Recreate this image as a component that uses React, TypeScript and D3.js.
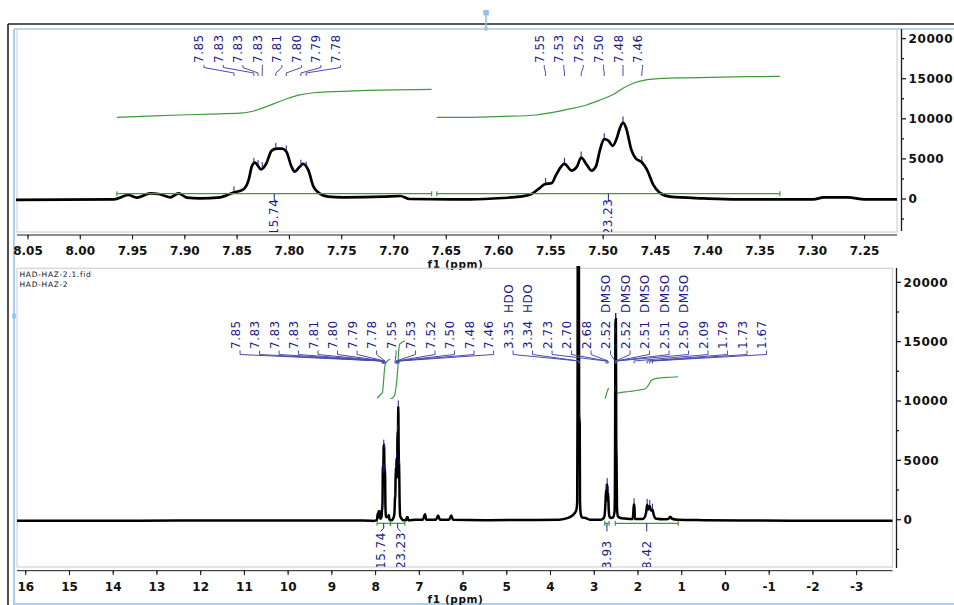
import * as d3 from 'd3';

type Pt = [number, number];

// spectrum trace, [ppm, intensity]
const traceDownfield: Pt[] = [
  [16.2, -80], [14.5, -90], [12.5, -70], [10.5, -60], [9.0, -60], [8.3, -60], [8.1, -80],
];

const traceAromatic: Pt[] = [
  [8.061, -100], [7.968, -40], [7.954, 500], [7.946, 170], [7.933, 710], [7.925, 625],
  [7.914, 210], [7.906, 710], [7.898, 170], [7.886, 80], [7.866, 210], [7.854, 790],
  [7.844, 1210], [7.839, 2375], [7.836, 4040], [7.833, 4540], [7.827, 3700], [7.822, 4460],
  [7.817, 6040], [7.812, 6290], [7.807, 6290], [7.803, 5920], [7.798, 4040], [7.795, 3420],
  [7.79, 4040], [7.787, 4375], [7.782, 3625], [7.777, 1540], [7.772, 790], [7.763, 290],
  [7.749, 210], [7.71, 290], [7.694, 375], [7.685, 0], [7.627, -40], [7.596, 125],
  [7.58, 290], [7.569, 580], [7.561, 1330], [7.556, 1830], [7.549, 2000], [7.545, 3000],
  [7.537, 4375], [7.53, 3540], [7.525, 4040], [7.521, 5170], [7.516, 4330], [7.511, 3540],
  [7.507, 4040], [7.503, 6125], [7.499, 7460], [7.495, 7290], [7.491, 6625], [7.487, 7580],
  [7.484, 8830], [7.481, 9540], [7.478, 8830], [7.473, 6125], [7.469, 5080], [7.463, 4580],
  [7.458, 3625], [7.452, 1750], [7.446, 790], [7.436, 290], [7.404, 80], [7.372, -40],
  [7.299, -40], [7.289, 200], [7.266, 200], [7.25, -40], [7.218, -40],
];

const traceUpfield: Pt[] = [
  [7.1, 0], [6.92, 0], [6.87, 450], [6.84, 0], [6.62, 0], [6.57, 350], [6.53, 0],
  [6.32, 0], [6.27, 350], [6.23, 0], [5.5, -40], [4.5, -20], [3.8, 0], [3.6, 150],
  [3.5, 350], [3.45, 550], [3.41, 800], [3.39, 1500], [3.382, 10000], [3.376, 25000],
  [3.352, 25000], [3.346, 9000], [3.338, 8400], [3.332, 8000], [3.326, 1500], [3.31, 500],
  [3.28, 200], [3.2, 150], [3.1, 0], [2.85, 0], [2.78, 150], [2.76, 500], [2.745, 1300],
  [2.73, 2500], [2.72, 1600], [2.705, 3000], [2.695, 1800], [2.683, 2300], [2.67, 900],
  [2.655, 300], [2.62, 150], [2.57, 200], [2.535, 700], [2.525, 4500], [2.515, 16900],
  [2.505, 16900], [2.497, 6500], [2.49, 5000], [2.48, 1000], [2.46, 300], [2.4, 150],
  [2.3, 100], [2.12, 50], [2.1, 1000], [2.09, 1300], [2.08, 1000], [2.07, 50], [1.9, 50],
  [1.84, 250], [1.81, 700], [1.79, 1250], [1.77, 850], [1.75, 950], [1.73, 1150],
  [1.71, 850], [1.69, 750], [1.67, 850], [1.64, 400], [1.6, 100], [1.4, 30], [1.3, 80],
  [1.26, 250], [1.22, 80], [1.1, 0], [0.5, -40], [-0.5, -70], [-1.5, -80], [-2.5, -80],
  [-3.85, -80],
];

// picked peaks
const peakPpm = [
  7.853, 7.834, 7.83, 7.826, 7.813, 7.803, 7.789, 7.784, 7.555, 7.537, 7.521, 7.499, 7.481, 7.463,
  3.352, 3.34, 2.73, 2.705, 2.683, 2.52, 2.516, 2.511, 2.507, 2.503, 2.09, 1.79, 1.73, 1.67,
];
const peakText = [
  '7.85', '7.83', '7.83', '7.83', '7.81', '7.80', '7.79', '7.78', '7.55', '7.53', '7.52', '7.50',
  '7.48', '7.46', '3.35 HDO', '3.34 HDO', '2.73', '2.70', '2.68', '2.52 DMSO', '2.52 DMSO',
  '2.51 DMSO', '2.51 DMSO', '2.50 DMSO', '2.09', '1.79', '1.73', '1.67',
];

// integrals
const integralStart = [7.965, 7.659, 2.76, 2.52];
const integralEnd = [7.664, 7.331, 2.66, 1.08];
const integralText = ['15.74', '23.23', '3.93', '8.42'];
const integralA: Pt[] = [
  [7.965, 0], [7.935, 0.7], [7.905, 1.3], [7.875, 1.8], [7.847, 2.3], [7.835, 3.4],
  [7.822, 6.0], [7.803, 10.3], [7.79, 12.6], [7.777, 13.8], [7.758, 14.4], [7.713, 15.3],
  [7.664, 15.7],
];
const integralB: Pt[] = [
  [7.659, 0], [7.627, 0], [7.596, 0.5], [7.564, 1.3], [7.548, 2.8], [7.532, 4.7],
  [7.516, 6.9], [7.503, 9.7], [7.49, 12.9], [7.481, 16.3], [7.471, 19.1], [7.459, 21.0],
  [7.443, 21.9], [7.42, 22.2], [7.363, 22.8], [7.331, 23.0],
];
const integralC: Pt[] = [
  [2.76, 0], [2.74, 0.6], [2.725, 1.6], [2.71, 2.5], [2.695, 3.3], [2.68, 3.8], [2.66, 4.0],
];
const integralD: Pt[] = [
  [2.52, 0], [2.505, 1.9], [2.45, 2.2], [2.2, 2.8], [2.0, 3.3], [1.84, 3.8], [1.79, 4.6],
  [1.74, 6.0], [1.69, 7.3], [1.62, 7.9], [1.5, 8.2], [1.25, 8.5], [1.08, 8.7],
];
const integralCurves = [integralA, integralB, integralC, integralD];

// axis ticks
const topTickPpm = [8.05, 8.0, 7.95, 7.9, 7.85, 7.8, 7.75, 7.7, 7.65, 7.6, 7.55, 7.5, 7.45, 7.4, 7.35, 7.3, 7.25];
const bottomTickPpm = [16, 15, 14, 13, 12, 11, 10, 9, 8, 7, 6, 5, 4, 3, 2, 1, 0, -1, -2, -3];
const intensityTicks = [0, 5000, 10000, 15000, 20000];

const FONT = '"DejaVu Sans", Verdana, sans-serif';
const NAVY = '#1b1b8c';
const LINK = '#4c4cae';
const GREEN = '#3c9b3c';

const spectrum: Pt[] = [...traceDownfield, ...traceAromatic, ...traceUpfield].sort((a, b) => b[0] - a[0]);
const ascending = spectrum.slice().reverse();
const bisectPpm = d3.bisector((d: Pt) => d[0]).left;
const heightAt = (p: number) => {
  const i = bisectPpm(ascending, p);
  const a = ascending[Math.max(0, i - 1)];
  const b = ascending[Math.min(ascending.length - 1, i)];
  const t = b[0] === a[0] ? 0 : (p - a[0]) / (b[0] - a[0]);
  return a[1] + t * (b[1] - a[1]);
};

// push overlapping labels apart, keeping each group centred on its peaks
const spread = (xs: number[], gap: number) => {
  const groups = xs.map((v) => ({ n: 1, sum: v, start: v }));
  let i = 0;
  while (i < groups.length - 1) {
    const a = groups[i];
    const b = groups[i + 1];
    if (b.start - (a.start + (a.n - 1) * gap) < gap) {
      const n = a.n + b.n;
      const sum = a.sum + b.sum;
      groups.splice(i, 2, { n, sum, start: sum / n - ((n - 1) * gap) / 2 });
      i = Math.max(0, i - 1);
    } else i++;
  }
  return groups.flatMap((g) => d3.range(g.n).map((k) => g.start + k * gap));
};

type PanelCfg = {
  id: string;
  left: number; right: number; top: number; bottom: number; clipTop: number;
  xDomain: [number, number];
  yRange: [number, number];
  axisY: number; axisX: number; axisTop: number; axisBottom: number;
  majors: number[]; fmt: (v: number) => string; minorStep: number;
  tickLabelY: number; titleY: number;
  labelY: number; link: number[];
  intBase: number; intScale: number; barY: number; intLabelY: number;
  stroke: number;
  showName?: boolean;
};

const Panel = ({ c }: { c: PanelCfg }) => {
  const x = d3.scaleLinear().domain(c.xDomain).range([c.left, c.right]);
  const y = d3.scaleLinear().domain([0, 20000]).range(c.yRange);
  const yInt = (v: number) => c.intBase - v * c.intScale;
  const line = d3.line<Pt>().x((d) => x(d[0])).y((d) => y(d[1])).curve(d3.curveMonotoneX);
  const intLine = d3.line<Pt>().x((d) => x(d[0])).y((d) => yInt(d[1])).curve(d3.curveMonotoneX);

  const [hi, lo] = c.xDomain;
  const inside = (p: number) => p <= hi && p >= lo;

  const peaks = peakPpm.map((p, i) => ({ p, text: peakText[i] })).filter((d) => inside(d.p));
  const peakX = peaks.map((d) => x(d.p));
  const labelX = spread(peakX, 19.5);

  const ints = integralStart
    .map((s, i) => ({ s, e: integralEnd[i], text: integralText[i], curve: integralCurves[i] }))
    .filter((d) => inside((d.s + d.e) / 2));
  const intX = ints.map((d) => x((d.s + d.e) / 2));
  const intLabelX = spread(intX, 20);

  const minors = d3.range(d3.min(c.majors)! - c.minorStep, d3.max(c.majors)! + c.minorStep * 1.5, c.minorStep * 2)
    .map((v) => +(v + c.minorStep).toFixed(4))
    .filter(inside);
  const yMinors = [-2500, 2500, 7500, 12500, 17500].filter((v) => y(v) >= c.axisTop && y(v) <= c.axisBottom);
  const clip = `clip-${c.id}`;
  const [l0, l1, l2, l3] = c.link;

  return (
    <g>
      <defs>
        <clipPath id={clip}>
          <rect x={c.left - 1} y={c.clipTop} width={c.right - c.left + 1} height={c.bottom - c.clipTop} />
        </clipPath>
      </defs>
      <rect x={c.left} y={c.top} width={c.right - c.left} height={c.bottom - c.top} fill="none" stroke="#d2d2d2" strokeWidth={1.2} />

      {c.showName && (
        <g fontFamily={FONT} fontSize={7.5} fill="#111" letterSpacing={0.7}>
          <text x={c.left + 2.5} y={c.top + 8.3}>HAD-HAZ-2.1.fid</text>
          <text x={c.left + 2.5} y={c.top + 18.8}>HAD-HAZ-2</text>
        </g>
      )}

      <g clipPath={`url(#${clip})`}>
        {/* integral curves */}
        {ints.map((d, i) => (
          <path key={`ic${i}`} d={intLine(d.curve) ?? ''} fill="none" stroke={GREEN} strokeWidth={1.2} />
        ))}
        {/* spectrum */}
        <path d={line(spectrum) ?? ''} fill="none" stroke="#000" strokeWidth={c.stroke} strokeLinejoin="round" />
        {/* peak markers */}
        {peaks.map((d, i) => {
          const py = y(heightAt(d.p));
          return <line key={`pm${i}`} x1={peakX[i]} x2={peakX[i]} y1={py - 6} y2={py - 1} stroke={NAVY} strokeWidth={1} />;
        })}
        {/* integral bars */}
        {ints.map((d, i) => (
          <g key={`ib${i}`} stroke={GREEN} strokeWidth={1.2}>
            <line x1={x(d.s)} x2={x(d.e)} y1={c.barY} y2={c.barY} />
            <line x1={x(d.s)} x2={x(d.s)} y1={c.barY - 2.5} y2={c.barY + 2.5} />
            <line x1={x(d.e)} x2={x(d.e)} y1={c.barY - 2.5} y2={c.barY + 2.5} />
          </g>
        ))}
        {/* integral values, written upward from below the frame */}
        {ints.map((d, i) => (
          <g key={`il${i}`}>
            <path
              d={`M${intX[i]},${c.barY} V${c.barY + 5} L${intLabelX[i]},${c.barY + 8}`}
              fill="none" stroke={NAVY} strokeWidth={1}
            />
            <text
              transform={`translate(${intLabelX[i] + 4},${c.intLabelY}) rotate(-90)`}
              fontFamily={FONT} fontSize={12} letterSpacing={0.5} fill={NAVY}
            >
              {d.text}
            </text>
          </g>
        ))}
      </g>

      {/* peak labels */}
      {peaks.map((d, i) => (
        <g key={`pl${i}`}>
          <path
            d={`M${labelX[i]},${l0} V${l1} L${peakX[i]},${l2} V${l3}`}
            fill="none" stroke={LINK} strokeWidth={1}
          />
          <text
            transform={`translate(${labelX[i] - 0.5},${c.labelY}) rotate(-90)`}
            fontFamily={FONT} fontSize={12} letterSpacing={0.5} wordSpacing={3} fill={NAVY}
          >
            {d.text}
          </text>
        </g>
      ))}

      {/* x axis */}
      <g stroke="#1a1a1a" strokeWidth={1}>
        <line x1={c.left} x2={c.right} y1={c.axisY} y2={c.axisY} />
        {c.majors.map((v) => (
          <line key={`xt${v}`} x1={x(v)} x2={x(v)} y1={c.axisY} y2={c.axisY + 4.5} />
        ))}
        {minors.map((v) => (
          <line key={`xm${v}`} x1={x(v)} x2={x(v)} y1={c.axisY} y2={c.axisY + 2.5} />
        ))}
      </g>
      <g fontFamily={FONT} fontSize={12} fontWeight="bold" fill="#111" textAnchor="middle">
        {c.majors.map((v) => (
          <text key={`xl${v}`} x={x(v)} y={c.tickLabelY}>{c.fmt(v)}</text>
        ))}
      </g>
      <text x={455.5} y={c.titleY} textAnchor="middle" fontFamily={FONT} fontSize={10.5} fontWeight="bold" letterSpacing={0.6} fill="#111">
        f1 (ppm)
      </text>

      {/* intensity axis */}
      <g stroke="#1a1a1a" strokeWidth={1.3}>
        <line x1={c.axisX} x2={c.axisX} y1={c.axisTop} y2={c.axisBottom} />
        {intensityTicks.map((v) => (
          <line key={`yt${v}`} x1={c.axisX} x2={c.axisX + 4.5} y1={y(v)} y2={y(v)} />
        ))}
        {yMinors.map((v) => (
          <line key={`ym${v}`} x1={c.axisX} x2={c.axisX + 2.5} y1={y(v)} y2={y(v)} />
        ))}
      </g>
      <g fontFamily={FONT} fontSize={12} fontWeight="bold" fill="#111" letterSpacing={0.6}>
        {intensityTicks.map((v) => (
          <text key={`yl${v}`} x={c.axisX + 7} y={y(v)} dy="0.35em">{String(v)}</text>
        ))}
      </g>
    </g>
  );
};

const topPanel: PanelCfg = {
  id: 'top',
  left: 17, right: 897, top: 29, bottom: 232, clipTop: 29,
  xDomain: [8.0605, 7.219],
  yRange: [199, 38.6],
  axisY: 235, axisX: 901.5, axisTop: 29, axisBottom: 231,
  majors: topTickPpm, fmt: d3.format('.2f'), minorStep: 0.025,
  tickLabelY: 255, titleY: 267.5,
  labelY: 63, link: [65, 67.5, 73, 76],
  intBase: 117.3, intScale: 1.78, barY: 193.7, intLabelY: 235.5,
  stroke: 2.7,
};

const bottomPanel: PanelCfg = {
  id: 'bottom',
  left: 17, right: 892.5, top: 268.3, bottom: 567, clipTop: 266,
  xDomain: [16.2, -3.82],
  yRange: [519.7, 282.3],
  axisY: 570.7, axisX: 896.5, axisTop: 268, axisBottom: 568,
  majors: bottomTickPpm, fmt: (v) => String(v), minorStep: 0.5,
  tickLabelY: 590.5, titleY: 602.5,
  labelY: 349, link: [350.5, 354.5, 361, 363.5],
  intBase: 398.5, intScale: 2.5, barY: 523.3, intLabelY: 569,
  stroke: 2.5,
  showName: true,
};

export default function App() {
  return (
    <svg
      width={954}
      height={605}
      viewBox="0 0 954 605"
      style={{ position: 'absolute', left: 0, top: 0, background: '#fff' }}
    >
      <rect width={954} height={605} fill="#fff" />
      {/* window frame */}
      <line x1={8} x2={954} y1={24} y2={24} stroke="#222" strokeWidth={1.6} />
      <line x1={8} x2={8} y1={24} y2={605} stroke="#222" strokeWidth={1.6} />
      <line x1={14} x2={954} y1={29} y2={29} stroke="#9fcbf2" strokeWidth={1.5} />
      <line x1={14} x2={14} y1={29} y2={605} stroke="#a9d0f4" strokeWidth={2} />
      <line x1={14} x2={954} y1={604} y2={604} stroke="#a9d0f4" strokeWidth={2} />
      <line x1={486} x2={486} y1={15} y2={29} stroke="#8ec0ef" strokeWidth={1.5} />
      <rect x={483.3} y={10} width={5.5} height={5.5} fill="#8ec0ef" />
      <rect x={484.5} y={27.5} width={3} height={3} fill="#6aaae8" />
      <rect x={12.3} y={313.5} width={3.5} height={5} fill="#8ec0ef" />

      <Panel c={topPanel} />
      <Panel c={bottomPanel} />
    </svg>
  );
}
